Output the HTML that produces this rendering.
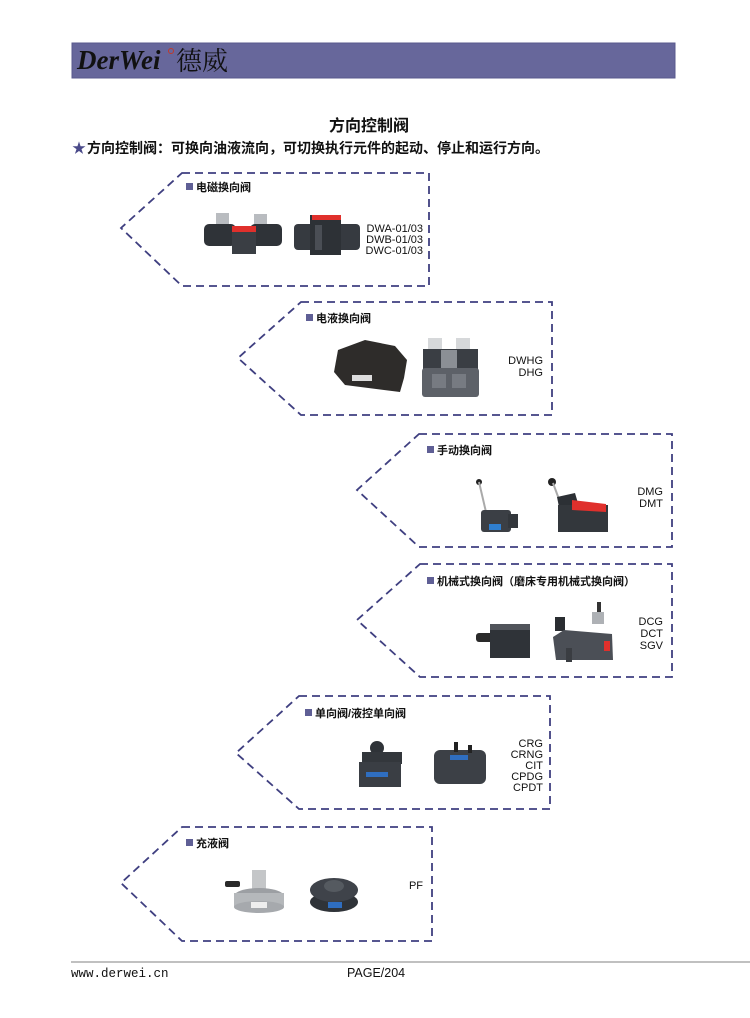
<!DOCTYPE html>
<html><head><meta charset="utf-8">
<style>
html,body{margin:0;padding:0;background:#fff;}
body{width:750px;height:1018px;overflow:hidden;position:relative;}
svg{position:absolute;left:0;top:0;}
.cj{font-family:"Liberation Sans","Noto Sans CJK SC",sans-serif;}
</style></head>
<body>
<svg width="750" height="1018" viewBox="0 0 750 1018" xmlns="http://www.w3.org/2000/svg">
<!-- Header -->
<rect x="72" y="43" width="603" height="35" fill="#67679b" stroke="#5a5a8e" stroke-width="1"/>
<text x="77" y="69" font-family="Liberation Serif, serif" font-style="italic" font-weight="bold" font-size="27" fill="#111">DerWei</text>
<circle cx="171" cy="51" r="2.5" fill="none" stroke="#c0392b" stroke-width="1"/>
<text x="176" y="70" font-family="Liberation Serif, 'Noto Serif CJK SC', serif" font-size="26" fill="#111">德威</text>

<!-- Title -->
<text x="369" y="131" text-anchor="middle" class="cj" font-size="16" font-weight="bold" fill="#111">方向控制阀</text>
<text x="72" y="153" class="cj" font-size="14" fill="#4a4a8a">★</text>
<text x="87" y="153" class="cj" font-size="14" font-weight="bold" fill="#111">方向控制阀：可换向油液流向，可切换执行元件的起动、停止和运行方向。</text>

<!-- Dashed pentagons -->
<g fill="none" stroke="#3f3f80" stroke-width="1.8" stroke-dasharray="8,5">
<path d="M182,173 L429,173 L429,286 L182,286 L121,228 Z"/>
<path d="M301,302 L552,302 L552,415 L301,415 L238,358 Z"/>
<path d="M419,434 L672,434 L672,547 L419,547 L357,490 Z"/>
<path d="M420,564 L672,564 L672,677 L420,677 L357,620 Z"/>
<path d="M299,696 L550,696 L550,809 L299,809 L236,753 Z"/>
<path d="M182,827 L432,827 L432,941 L182,941 L121,883 Z"/>
</g>

<!-- Section headings -->
<g class="cj" font-size="11" font-weight="bold" fill="#111">
<rect x="186" y="183" width="7" height="7" fill="#5f5f95"/><text x="196" y="191">电磁换向阀</text>
<rect x="306" y="314" width="7" height="7" fill="#5f5f95"/><text x="316" y="322">电液换向阀</text>
<rect x="427" y="446" width="7" height="7" fill="#5f5f95"/><text x="437" y="454">手动换向阀</text>
<rect x="427" y="577" width="7" height="7" fill="#5f5f95"/><text x="437" y="585">机械式换向阀（磨床专用机械式换向阀）</text>
<rect x="305" y="709" width="7" height="7" fill="#5f5f95"/><text x="315" y="717">单向阀/液控单向阀</text>
<rect x="186" y="839" width="7" height="7" fill="#5f5f95"/><text x="196" y="847">充液阀</text>
</g>

<!-- Model labels -->
<g font-family="Liberation Sans, sans-serif" font-size="11" fill="#111" text-anchor="end">
<text x="423" y="232">DWA-01/03</text>
<text x="423" y="243">DWB-01/03</text>
<text x="423" y="254">DWC-01/03</text>
<text x="543" y="364">DWHG</text>
<text x="543" y="376">DHG</text>
<text x="663" y="495">DMG</text>
<text x="663" y="507">DMT</text>
<text x="663" y="625">DCG</text>
<text x="663" y="637">DCT</text>
<text x="663" y="649">SGV</text>
<text x="543" y="747">CRG</text>
<text x="543" y="758">CRNG</text>
<text x="543" y="769">CIT</text>
<text x="543" y="780">CPDG</text>
<text x="543" y="791">CPDT</text>
<text x="423" y="889">PF</text>
</g>

<!-- Box1 products -->
<g>
<rect x="216" y="213" width="13" height="11" fill="#b9bcc0"/>
<rect x="254" y="214" width="13" height="11" fill="#b9bcc0"/>
<rect x="204" y="224" width="32" height="22" rx="5" fill="#2f3338"/>
<rect x="250" y="224" width="32" height="22" rx="5" fill="#2f3338"/>
<rect x="232" y="229" width="24" height="25" fill="#3a3e44"/>
<rect x="232" y="226" width="24" height="6" fill="#e0302c"/>
<rect x="294" y="224" width="66" height="26" rx="4" fill="#363a40"/>
<rect x="310" y="215" width="31" height="40" fill="#2d3136"/>
<rect x="312" y="215" width="29" height="5" fill="#e0302c"/>
<rect x="315" y="225" width="7" height="25" fill="#4a4e55"/>
</g>
<!-- Box2 products -->
<g>
<path d="M338,350 L365,340 L395,346 L407,360 L404,378 L400,392 L345,385 L334,372 Z" fill="#2e2c2a"/>
<rect x="352" y="375" width="20" height="6" fill="#ddd"/>
<rect x="428" y="338" width="14" height="12" fill="#d6d8da"/>
<rect x="456" y="338" width="14" height="12" fill="#d6d8da"/>
<rect x="423" y="349" width="55" height="20" fill="#3a3e44"/>
<rect x="441" y="350" width="16" height="20" fill="#8b8f95"/>
<rect x="422" y="368" width="57" height="29" rx="3" fill="#5d6168"/>
<rect x="432" y="374" width="14" height="14" fill="#777b82"/>
<rect x="452" y="374" width="14" height="14" fill="#777b82"/>
</g>
<!-- Box3 products -->
<g>
<circle cx="479" cy="482" r="3" fill="#222"/>
<line x1="479" y1="482" x2="486" y2="512" stroke="#aaa" stroke-width="2"/>
<rect x="481" y="510" width="30" height="22" rx="3" fill="#3b3f45"/>
<rect x="508" y="514" width="10" height="14" fill="#33373c"/>
<rect x="489" y="524" width="12" height="6" fill="#2f7fd0"/>
<circle cx="552" cy="482" r="4" fill="#222"/>
<line x1="553" y1="483" x2="560" y2="502" stroke="#aaa" stroke-width="2"/>
<path d="M557,497 L575,493 L580,510 L560,512 Z" fill="#2c3035"/>
<rect x="558" y="505" width="50" height="27" fill="#33373c"/>
<path d="M572,500 L606,504 L606,512 L572,510 Z" fill="#e0302c"/>
</g>
<!-- Box4 products -->
<g>
<rect x="476" y="633" width="20" height="9" rx="3" fill="#2a2a2a"/>
<rect x="490" y="624" width="40" height="34" fill="#2f3338"/>
<rect x="490" y="624" width="40" height="6" fill="#50545a"/>
<rect x="555" y="617" width="10" height="14" fill="#2a2d31"/>
<rect x="597" y="602" width="4" height="16" fill="#333"/>
<rect x="592" y="612" width="12" height="12" fill="#aeb1b5"/>
<path d="M553,637 L564,630 L612,634 L613,660 L556,660 Z" fill="#4b4f56"/>
<rect x="604" y="641" width="6" height="10" fill="#e0302c"/>
<rect x="566" y="648" width="6" height="14" fill="#3a3d42"/>
</g>
<!-- Box5 products -->
<g>
<circle cx="377" cy="748" r="7" fill="#2f3338"/>
<rect x="362" y="752" width="40" height="12" fill="#33373c"/>
<rect x="359" y="762" width="42" height="25" fill="#3a3e44"/>
<rect x="366" y="772" width="22" height="5" fill="#2f6ec0"/>
<rect x="434" y="750" width="52" height="34" rx="6" fill="#3c4046"/>
<rect x="454" y="742" width="4" height="10" fill="#222"/>
<rect x="468" y="745" width="4" height="8" fill="#222"/>
<rect x="450" y="755" width="18" height="5" fill="#2f6ec0"/>
</g>
<!-- Box6 products -->
<g>
<rect x="225" y="881" width="15" height="6" rx="2" fill="#2a2a2a"/>
<rect x="252" y="870" width="14" height="22" fill="#c4c6c8"/>
<ellipse cx="259" cy="896" rx="25" ry="8" fill="#9c9fa3"/>
<rect x="234" y="893" width="50" height="14" fill="#b5b8bb"/>
<ellipse cx="259" cy="907" rx="25" ry="6" fill="#a6a9ad"/>
<rect x="251" y="902" width="16" height="6" fill="#eee"/>
<ellipse cx="334" cy="902" rx="24" ry="10" fill="#2f3338"/>
<ellipse cx="334" cy="890" rx="24" ry="12" fill="#3f434a"/>
<ellipse cx="334" cy="886" rx="10" ry="6" fill="#555a60"/>
<rect x="328" y="902" width="14" height="6" fill="#2f6ec0"/>
</g>

<!-- Footer -->
<line x1="71" y1="962" x2="750" y2="962" stroke="#9a9a9a" stroke-width="1.2"/>
<text x="71" y="977" font-family="Liberation Mono, monospace" font-size="12.5" fill="#111">www.derwei.cn</text>
<text x="347" y="977" font-family="Liberation Sans Narrow, Liberation Sans, sans-serif" font-size="12.5" fill="#111">PAGE/204</text>
</svg>
</body></html>
